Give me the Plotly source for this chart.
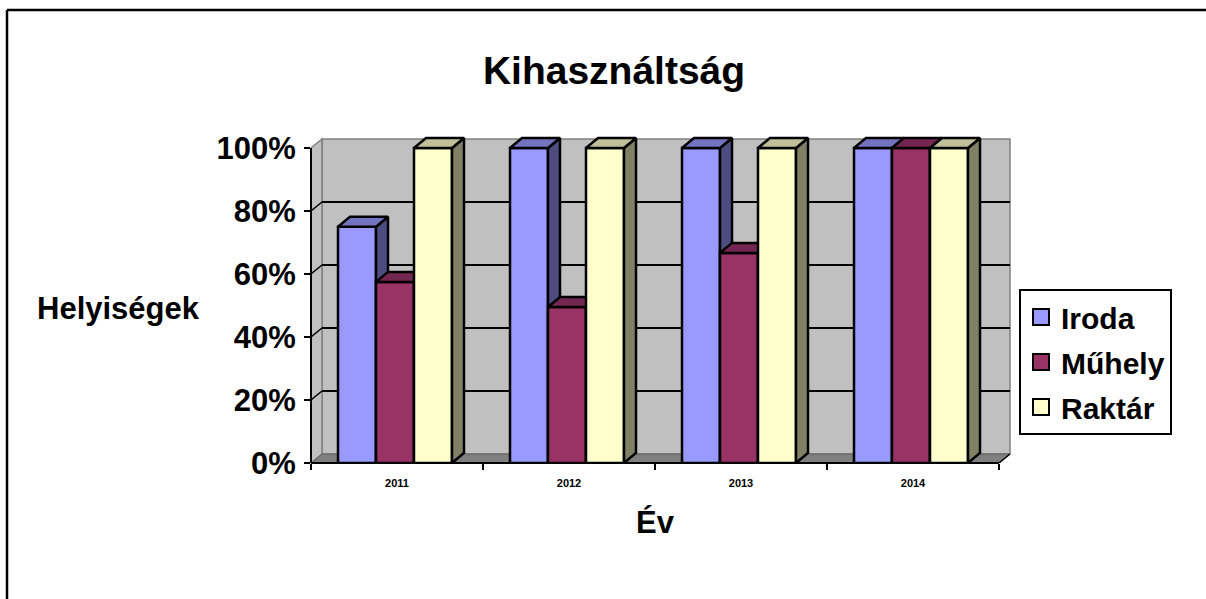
import plotly.graph_objects as go

# ---------------- data ----------------
years = ["2011", "2012", "2013", "2014"]
series = ["Iroda", "Műhely", "Raktár"]
iroda = [0.75, 1.0, 1.0, 1.0]
muhely = [0.575, 0.495, 0.667, 1.0]
raktar = [1.0, 1.0, 1.0, 1.0]
values = [iroda, muhely, raktar]

front_colors = ["#9999FF", "#993366", "#FFFFCC"]
top_colors = ["#7373BF", "#732650", "#BFBF99"]
side_colors = ["#4D4D80", "#4D1A33", "#808066"]

ytick_vals = [0, 0.2, 0.4, 0.6, 0.8, 1.0]
ytick_text = ["0%", "20%", "40%", "60%", "80%", "100%"]

# ---------------- geometry ----------------
W_PX, H_PX = 1206, 599
CAT_PX = 172.0          # pixels per category
UNIT_PX = 315.0         # pixels per 100%
L_M = 311
PLOT_W = 4 * CAT_PX + 14
B_M = 136
T_M = 136
PLOT_H = H_PX - B_M - T_M
ncat = len(years)
xr = [0, PLOT_W / CAT_PX]
yr = [0, PLOT_H / UNIT_PX]

wdx, wdy = 11 / CAT_PX, 9 / UNIT_PX     # wall depth
bdx, bdy = 12 / CAT_PX, 10 / UNIT_PX    # bar depth
bw = 38 / CAT_PX                        # bar width
shift = -2 / CAT_PX
LW = 2.5

FONT = "Arial, Liberation Sans, Helvetica, sans-serif"

def px_x(px):
    return (px - L_M) / PLOT_W

def px_y(py):
    return (H_PX - B_M - py) / PLOT_H

fig = go.Figure()

centers = [c + 0.5 for c in range(ncat)]

for i, name in enumerate(series):
    ax = "" if i == 0 else str(i + 1)
    xa, ya = "x" + ax, "y" + ax
    off = (-1.5 + i) * bw + shift
    vals = values[i]
    fig.add_trace(go.Bar(
        x=centers, y=vals, width=[bw] * ncat, offset=off,
        marker=dict(color=front_colors[i], line=dict(color="black", width=LW)),
        name=name, showlegend=False, xaxis=xa, yaxis=ya,
        hoverinfo="skip"))
    tx, ty, sx, sy = [], [], [], []
    for c, v in zip(centers, vals):
        x0 = c + off
        x1 = x0 + bw
        tx += [x0, x1, x1 + bdx, x0 + bdx, x0, None]
        ty += [v, v, v + bdy, v + bdy, v, None]
        sx += [x1, x1, x1 + bdx, x1 + bdx, x1, None]
        sy += [0, v, v + bdy, bdy, 0, None]
    fig.add_trace(go.Scatter(
        x=sx, y=sy, mode="lines", fill="toself", fillcolor=side_colors[i],
        line=dict(color="black", width=LW), showlegend=False,
        xaxis=xa, yaxis=ya, hoverinfo="skip"))
    fig.add_trace(go.Scatter(
        x=tx, y=ty, mode="lines", fill="toself", fillcolor=top_colors[i],
        line=dict(color="black", width=LW), showlegend=False,
        xaxis=xa, yaxis=ya, hoverinfo="skip"))

# legend entries
for i, name in enumerate(series):
    fig.add_trace(go.Scatter(
        x=[None], y=[None], mode="markers", name=name, legendgroup=name,
        marker=dict(symbol="square", size=16, color=front_colors[i],
                    line=dict(color="black", width=2))))

shapes = []
# back wall
shapes.append(dict(type="rect", xref="x", yref="y", x0=wdx, x1=ncat + wdx,
                   y0=wdy, y1=1 + wdy, fillcolor="#C0C0C0",
                   line=dict(color="#808080", width=1.5), layer="below"))
# side wall
shapes.append(dict(type="path", xref="x", yref="y",
                   path=f"M 0,0 L 0,1 L {wdx},{1 + wdy} L {wdx},{wdy} Z",
                   fillcolor="#C0C0C0", line=dict(color="#808080", width=1.5),
                   layer="below"))
# floor
shapes.append(dict(type="path", xref="x", yref="y",
                   path=f"M 0,0 L {ncat},0 L {ncat + wdx},{wdy} L {wdx},{wdy} Z",
                   fillcolor="#808080", line=dict(color="#606060", width=1),
                   layer="below"))
shapes.append(dict(type="line", xref="x", yref="y", x0=ncat, y0=0,
                   x1=ncat + wdx, y1=wdy, line=dict(color="black", width=1.5),
                   layer="below"))
# gridlines
for v in ytick_vals[1:-1]:
    shapes.append(dict(type="line", xref="x", yref="y", x0=wdx, x1=ncat + wdx,
                       y0=v + wdy, y1=v + wdy, line=dict(color="black", width=2),
                       layer="below"))
    shapes.append(dict(type="line", xref="x", yref="y", x0=0, x1=wdx,
                       y0=v, y1=v + wdy, line=dict(color="black", width=1.5),
                       layer="below"))
# front axis lines
shapes.append(dict(type="line", xref="paper", yref="y", x0=0, x1=0, y0=0, y1=1,
                   line=dict(color="black", width=2), layer="above"))
shapes.append(dict(type="line", xref="x", yref="paper", x0=0, x1=ncat, y0=0, y1=0,
                   line=dict(color="black", width=2), layer="above"))
# outer frame (top and left edges visible)
shapes.append(dict(type="line", xref="paper", yref="paper",
                   x0=px_x(7), x1=px_x(1300), y0=px_y(10), y1=px_y(10),
                   line=dict(color="black", width=2.5), layer="above"))
shapes.append(dict(type="line", xref="paper", yref="paper",
                   x0=px_x(7), x1=px_x(7), y0=px_y(10), y1=px_y(700),
                   line=dict(color="black", width=2.5), layer="above"))

hidden = dict(range=xr, visible=False, fixedrange=True)
fig.update_layout(
    width=W_PX, height=H_PX,
    margin=dict(l=L_M, r=W_PX - L_M - PLOT_W, t=T_M, b=B_M, pad=0),
    paper_bgcolor="white", plot_bgcolor="rgba(0,0,0,0)",
    font=dict(family=FONT, color="black"),
    title=dict(text="Kihasználtság", x=614 / W_PX, xref="container", xanchor="center",
               y=1 - 70 / H_PX, yref="container", yanchor="middle",
               font=dict(size=39, weight="bold", family=FONT, color="black")),
    barmode="overlay",
    showlegend=True,
    hovermode=False,
    legend=dict(x=px_x(1019), y=px_y(289), xanchor="left", yanchor="top",
                bordercolor="black", borderwidth=2, bgcolor="white",
                font=dict(size=30, weight="bold", family=FONT, color="black"),
                tracegroupgap=3, itemclick=False),
    xaxis=dict(range=xr, tickmode="array", tickvals=centers, ticktext=years,
               ticks="", showgrid=False, zeroline=False, showline=False,
               tickfont=dict(size=11, weight="bold", family=FONT, color="black"),
               ticklabelstandoff=12,
               minor=dict(tickmode="array", tickvals=list(range(ncat + 1)),
                          ticks="outside", ticklen=6, tickwidth=2, tickcolor="black",
                          showgrid=False),
               fixedrange=True),
    yaxis=dict(range=yr, tickmode="array", tickvals=ytick_vals, ticktext=ytick_text,
               ticks="outside", ticklen=6, tickwidth=2, tickcolor="black",
               showgrid=False, zeroline=False, showline=False,
               tickfont=dict(size=31, weight="bold", family=FONT, color="black"),
               ticklabelstandoff=2, fixedrange=True),
    xaxis2=dict(hidden, overlaying="x", anchor="y2"),
    yaxis2=dict(range=yr, visible=False, fixedrange=True, overlaying="y", anchor="x2"),
    xaxis3=dict(hidden, overlaying="x", anchor="y3"),
    yaxis3=dict(range=yr, visible=False, fixedrange=True, overlaying="y", anchor="x3"),
    shapes=shapes,
    annotations=[
        dict(text="Helyiségek", xref="paper", yref="paper", x=px_x(118), y=px_y(308),
             xanchor="center", yanchor="middle", showarrow=False,
             font=dict(size=31, weight="bold", family=FONT, color="black")),
        dict(text="Év", xref="paper", yref="paper", x=px_x(655), y=px_y(522),
             xanchor="center", yanchor="middle", showarrow=False,
             font=dict(size=31, weight="bold", family=FONT, color="black")),
    ],
)

fig.write_html(
    "out.html",
    config={"displayModeBar": False},
    post_script="document.body.style.margin='0';document.body.style.overflow='hidden';",
)
